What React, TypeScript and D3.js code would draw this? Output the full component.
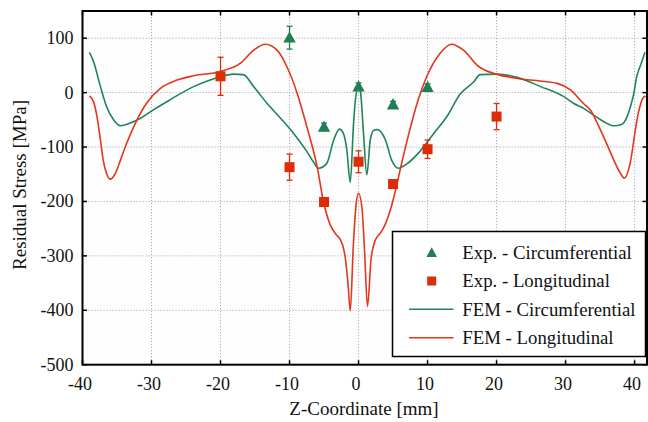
import React from "react";
import * as d3 from "d3";

// ---- data ----
const xTicks = [-40, -30, -20, -10, 0, 10, 20, 30, 40];
const yTicks = [-500, -400, -300, -200, -100, 0, 100];

const expCircX = [-10, -5, 0, 5, 10];
const expCircY = [101, -63, 11, -22, 10];
const expCircErr = [21, 7, 7, 6, 6];

const expLongX = [-20, -10, -5, 0, 5, 10, 20];
const expLongY = [30, -137, -201, -127, -168, -104, -44];
const expLongErr = [35, 24, 0, 20, 0, 17, 24];

const femCircX = [-39, -38.4, -37.4, -36.5, -35.5, -34.5, -33.1, -31.6, -29.9, -27.3, -23.9, -22, -20, -18.1, -16.7, -15.2, -13.3, -11.3, -9.4, -7.5, -6.5, -5.8, -4.6, -3.6, -2.75, -2.2, -1.7, -1.2, -0.72, -0.45, 0, 0.3, 0.72, 1.2, 1.7, 2.2, 2.75, 3.9, 4.8, 5.8, 7, 8.9, 10.9, 12.8, 14.7, 16.7, 17.6, 20, 23, 26.3, 29.7, 31.2, 32.6, 34.5, 35.5, 37, 38.2, 38.7, 39.4, 39.9, 40.3, 40.8, 41.5];
const femCircY = [74, 57, 11, -26, -50, -61, -56, -47, -33, -13, 11, 21, 29, 34, 33, 11, -19, -47, -75, -108, -128, -139, -130, -87, -67, -75, -105, -165, -56, -13, 13, 0, -75, -151, -87, -69, -68, -87, -124, -139, -131, -108, -75, -44, -3, 20, 33, 34, 28, 11.5, -7, -20, -29, -45, -53, -61, -58, -50, -26, -1, 29, 48, 74];

const femLongX = [-39, -38.4, -37.9, -37.4, -37, -36.5, -36, -35.3, -34.5, -33.6, -32.1, -30.7, -28.7, -26.3, -23.9, -20, -17.1, -15.2, -13.5, -11.8, -10.4, -8.9, -7.5, -6, -5.07, -4.1, -3.3, -2.65, -2.2, -1.9, -1.5, -1.2, -0.75, -0.35, 0, 0.5, 0.85, 1.3, 1.8, 2.4, 3.1, 3.6, 4.6, 5.5, 6.1, 7.2, 8.6, 9.9, 11.8, 13.5, 15.2, 17.4, 20, 23.2, 26.3, 28.8, 30.7, 32.6, 33.6, 34.6, 36.2, 37.9, 38.5, 39.4, 40.1, 40.5, 40.9, 41.2, 41.6];
const femLongY = [-6, -17, -44, -87, -124, -149, -159, -150, -124, -93, -50, -19, 8, 23, 31, 39, 54, 78, 89, 78, 48, -1, -62, -136, -201, -243, -260, -270, -285, -305, -355, -401, -280, -205, -185, -212, -285, -393, -308, -272, -259, -249, -216, -172, -138, -80, -15, 30, 72, 89, 78, 48, 34, 25.5, 21.5, 17, 5, -20, -32, -56, -101, -147, -157, -127, -70, -40, -20, -10, -6];

const legendLabels = [
  "Exp. - Circumferential",
  "Exp. - Longitudinal",
  "FEM - Circumferential",
  "FEM - Longitudinal",
];

// ---- layout ----
const W = 648, H = 422;
const L = 82.5, R = 647, T = 11, B = 364.7;
const GREEN = "#1f8559";
const GREEN_M = "#237d54";
const RED = "#e3361b";
const RED_M = "#dd2c06";
const FONT = '"Liberation Serif", "DejaVu Serif", serif';

export default function App() {
  const x = d3.scaleLinear().domain([-40, 41.8]).range([L, R]);
  const y = d3.scaleLinear().domain([-500, 150]).range([B, T]);

  const line = d3
    .line<[number, number]>()
    .x((d) => x(d[0]))
    .y((d) => y(d[1]))
    .curve(d3.curveMonotoneX);

  const circPts = femCircX.map((v, i) => [v, femCircY[i]] as [number, number]);
  const longPts = femLongX.map((v, i) => [v, femLongY[i]] as [number, number]);

  const tri = (cx: number, cy: number, s = 1) =>
    `M${cx},${cy - 6.5 * s}L${cx + 6.2 * s},${cy + 4.8 * s}L${cx - 6.2 * s},${cy + 4.8 * s}Z`;

  const legX = 392.5, legY = 231.5, legW = 253, legH = 125;
  const rowY = [252.3, 281, 309.3, 337.7];

  return (
    <svg
      width={W}
      height={H}
      style={{ position: "absolute", left: 0, top: 0, background: "#fff", fontFamily: FONT }}
    >
      <defs>
        <clipPath id="plot">
          <rect x={L} y={T} width={R - L} height={B - T} />
        </clipPath>
      </defs>
      <rect x={L} y={T} width={R - L} height={B - T} fill="#fdfdfd" />
      {/* grid */}
      {xTicks.filter((t) => t > -40).map((t) => (
        <line key={"gx" + t} x1={x(t)} x2={x(t)} y1={T} y2={B} stroke="#9a9a9a" strokeWidth={0.8} strokeDasharray="1.2,1.8" />
      ))}
      {yTicks.filter((t) => t > -500).map((t) => (
        <line key={"gy" + t} x1={L} x2={R} y1={y(t)} y2={y(t)} stroke="#9a9a9a" strokeWidth={0.8} strokeDasharray="1.2,1.8" />
      ))}

      {/* FEM curves */}
      <g clipPath="url(#plot)">
        <path d={line(circPts) || ""} fill="none" stroke={GREEN} strokeWidth={1.6} strokeLinejoin="round" />
        <path d={line(longPts) || ""} fill="none" stroke={RED} strokeWidth={1.6} strokeLinejoin="round" />
      </g>

      {/* Exp longitudinal */}
      {expLongX.map((v, i) => {
        const cx = x(v), cy = y(expLongY[i]);
        const e = expLongErr[i];
        return (
          <g key={"l" + i}>
            {e > 0 && (
              <g stroke={RED_M} strokeWidth={1.3}>
                <line x1={cx} x2={cx} y1={y(expLongY[i] + e)} y2={y(expLongY[i] - e)} />
                <line x1={cx - 3} x2={cx + 3} y1={y(expLongY[i] + e)} y2={y(expLongY[i] + e)} />
                <line x1={cx - 3} x2={cx + 3} y1={y(expLongY[i] - e)} y2={y(expLongY[i] - e)} />
              </g>
            )}
            <rect x={cx - 5} y={cy - 5} width={10} height={10} fill={RED_M} />
          </g>
        );
      })}

      {/* Exp circumferential */}
      {expCircX.map((v, i) => {
        const cx = x(v), cy = y(expCircY[i]);
        const e = expCircErr[i];
        return (
          <g key={"c" + i}>
            <g stroke={GREEN_M} strokeWidth={1.3}>
              <line x1={cx} x2={cx} y1={y(expCircY[i] + e)} y2={y(expCircY[i] - e)} />
              <line x1={cx - 3} x2={cx + 3} y1={y(expCircY[i] + e)} y2={y(expCircY[i] + e)} />
              <line x1={cx - 3} x2={cx + 3} y1={y(expCircY[i] - e)} y2={y(expCircY[i] - e)} />
            </g>
            <path d={tri(cx, cy)} fill={GREEN_M} />
          </g>
        );
      })}

      {/* frame */}
      <rect x={L} y={T} width={R - L} height={B - T} fill="none" stroke="#000" strokeWidth={2} />
      {/* ticks */}
      {xTicks.map((t) => (
        <g key={"tx" + t} stroke="#000" strokeWidth={1.5}>
          <line x1={x(t)} x2={x(t)} y1={B} y2={B - 4.5} />
          <line x1={x(t)} x2={x(t)} y1={T} y2={T + 4.5} />
        </g>
      ))}
      {yTicks.map((t) => (
        <g key={"ty" + t} stroke="#000" strokeWidth={1.5}>
          <line x1={L} x2={L + 4.5} y1={y(t)} y2={y(t)} />
          <line x1={R} x2={R - 4.5} y1={y(t)} y2={y(t)} />
        </g>
      ))}
      {/* tick labels */}
      {xTicks.map((t) => (
        <text key={"lx" + t} x={x(t) - 2.5} y={389.5} textAnchor="middle" fontSize={18} fill="#111">
          {t}
        </text>
      ))}
      {yTicks.map((t) => (
        <text key={"ly" + t} x={73.5} y={y(t) + 6} textAnchor="end" fontSize={18} fill="#111">
          {t}
        </text>
      ))}
      {/* titles */}
      <text x={364} y={415} textAnchor="middle" fontSize={19} fill="#111">
        Z-Coordinate [mm]
      </text>
      <text transform={`translate(26,185) rotate(-90)`} textAnchor="middle" fontSize={19} fill="#111">
        Residual Stress [MPa]
      </text>

      {/* legend */}
      <rect x={legX} y={legY} width={legW} height={legH} fill="#fff" stroke="#000" strokeWidth={1.5} />
      <path d={tri(431.7, rowY[0] + 0.5, 0.85)} fill={GREEN_M} />
      <rect x={431.7 - 4.5} y={rowY[1] - 4.5} width={9} height={9} fill={RED_M} />
      <line x1={409} x2={453.5} y1={rowY[2]} y2={rowY[2]} stroke={GREEN} strokeWidth={1.6} />
      <line x1={409} x2={453.5} y1={rowY[3]} y2={rowY[3]} stroke={RED} strokeWidth={1.6} />
      {legendLabels.map((s, i) => (
        <text key={s} x={462.3} y={rowY[i] + 6.3} fontSize={18.8} fill="#111">
          {s}
        </text>
      ))}
    </svg>
  );
}
